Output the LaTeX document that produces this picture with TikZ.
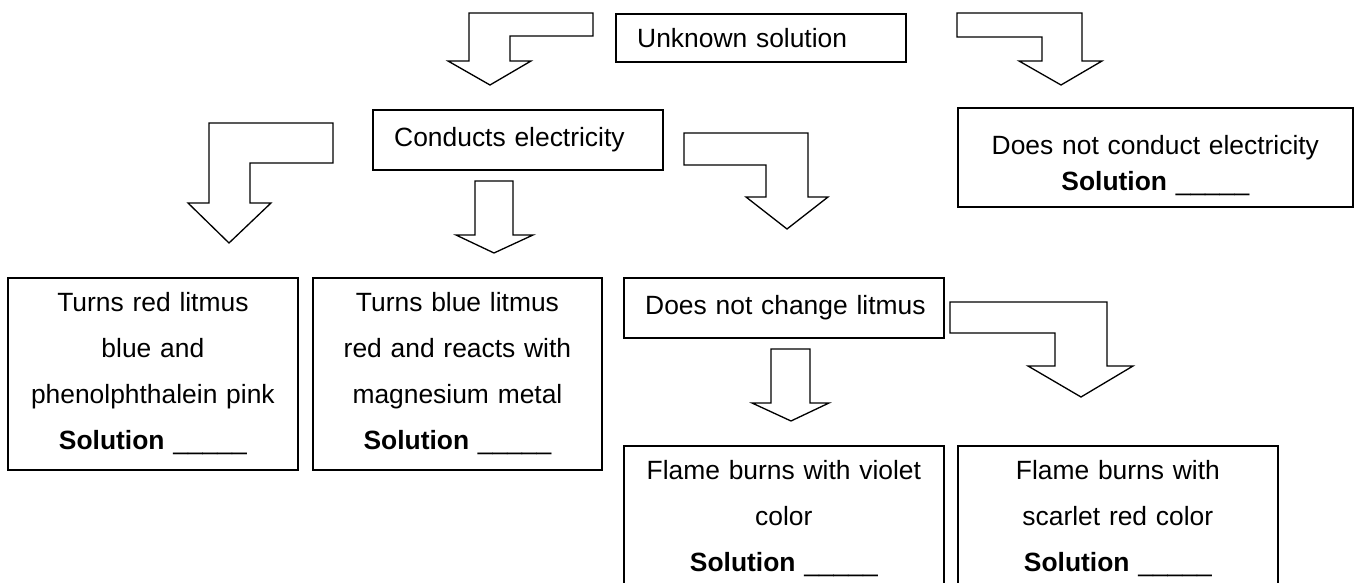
\documentclass[tikz,border=0pt]{standalone}
\usepackage{fontspec}
\setmainfont{Liberation Sans}
\usepackage{tikz}

\begin{document}
\begin{tikzpicture}[x=0.4545pt,y=-0.4545pt,
    box/.style={draw, line width=0.8pt, inner ysep=0pt, font=\fontsize{12}{14}\selectfont},
    leftbox/.style={box, align=left, inner xsep=9.7pt},
    tallbox/.style={box, align=center, inner xsep=3pt, font=\fontsize{12}{20.9}\selectfont},
    blockarrow/.style={draw, line width=0.6pt, line join=miter}]
    \useasboundingbox (0,0) rectangle (1354,583);
    \clip (0,0) rectangle (1354,583);

    % First level
    \node[leftbox, anchor=north west, text width=112.4pt, minimum height=21.8pt] (unknown) at (615,13) {\mbox{Unknown solution}};
    \node[leftbox, anchor=north west, text width=112.4pt, minimum height=27.3pt] (conducts) at (372,109) {\mbox{Conducts electricity}};
    \node[box, align=center, inner xsep=3pt, font=\fontsize{12}{16.4}\selectfont, anchor=north west, text width=173.5pt, minimum height=45pt] (noconduct) at (957,107) {\rule{0pt}{16pt}Does not conduct electricity\\\textbf{Solution} \_\_\_\_\_};

    % Second level
    \node[tallbox, anchor=north west, text width=125.8pt, minimum height=87.3pt] (redlit) at (7,277) {Turns red litmus\\blue and\\phenolphthalein pink\\\textbf{Solution} \_\_\_\_\_};
    \node[tallbox, anchor=north west, text width=125.4pt, minimum height=87.3pt] (bluelit) at (312,277) {Turns blue litmus\\red and reacts with\\magnesium metal\\\textbf{Solution} \_\_\_\_\_};
    \node[leftbox, anchor=north west, text width=126pt, minimum height=27.3pt] (nochange) at (623,277) {\mbox{Does not change litmus}};

    % Third level
    \node[tallbox, anchor=north west, text width=139.4pt, minimum height=66.4pt] (violet) at (623,445) {Flame burns with violet\\color\\\textbf{Solution} \_\_\_\_\_};
    \node[tallbox, anchor=north west, text width=139.4pt, minimum height=66.4pt] (scarlet) at (957,445) {Flame burns with\\scarlet red color\\\textbf{Solution} \_\_\_\_\_};

    % Block arrows
    \draw[blockarrow] (593,13) -- (469,13) -- (469,61) -- (448,61) -- (490,85) -- (531,61) -- (510,61) -- (510,36) -- (593,36) -- cycle;
    \draw[blockarrow] (957,13) -- (1082,13) -- (1082,61) -- (1102,61) -- (1061,85) -- (1019,61) -- (1042,61) -- (1042,37) -- (957,37) -- cycle;
    \draw[blockarrow] (333,123) -- (209,123) -- (209,203) -- (188,203) -- (229,243) -- (271,203) -- (250,203) -- (250,163) -- (333,163) -- cycle;
    \draw[blockarrow] (475,181) -- (513,181) -- (513,235) -- (533,235) -- (494,253) -- (456,235) -- (475,235) -- cycle;
    \draw[blockarrow] (684,133) -- (808,133) -- (808,197) -- (828,197) -- (787,229) -- (746,197) -- (766,197) -- (766,165) -- (684,165) -- cycle;
    \draw[blockarrow] (771,349) -- (810,349) -- (810,403) -- (829,403) -- (791,421) -- (752,403) -- (771,403) -- cycle;
    \draw[blockarrow] (950,302) -- (1107,302) -- (1107,366) -- (1133,366) -- (1081,397) -- (1028,366) -- (1055,366) -- (1055,333) -- (950,333) -- cycle;
\end{tikzpicture}
\end{document}
